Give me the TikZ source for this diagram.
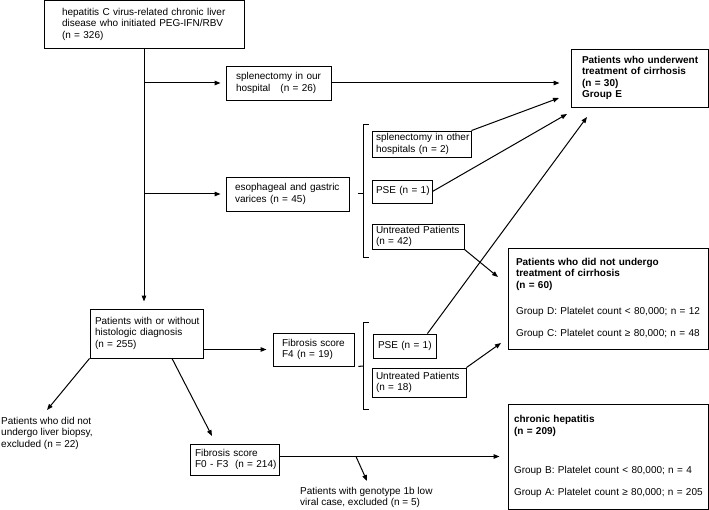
\documentclass[tikz,border=0pt]{standalone}
\usepackage{fontspec}
\setmainfont{Liberation Sans}
\usetikzlibrary{arrows.meta}
\newcommand\bt[2]{\noindent\hspace*{#1pt}\begin{tabular}[c]{@{}l@{}}#2\end{tabular}}
\begin{document}
\begin{tikzpicture}[x=1pt,y=-1pt,
  box/.style={draw, line width=0.9pt, inner sep=0pt, align=left,
    font=\fontsize{10}{11.5}\selectfont},
  lbl/.style={inner sep=0pt, align=left, anchor=west,
    font=\fontsize{10}{11.5}\selectfont},
  conn/.style={line width=1pt},
  arr/.style={conn, -{Triangle[length=6pt,width=4.5pt]}}]
\useasboundingbox (0,0) rectangle (709,510);

% boxes
\node[box, text width=200pt, minimum height=47.5pt] (top) at (144,24.25)
  {\bt{18}{hepatitis C virus-related chronic liver\\disease who initiated PEG-IFN/RBV\\(n = 326)}};
\node[box, text width=105pt, minimum height=34pt] (splen) at (278.5,83)
  {\bt{10}{splenectomy in our\\hospital \ \ (n = 26)}};
\node[box, text width=123pt, minimum height=34pt] (esoph) at (287.5,194)
  {\bt{9}{esophageal and gastric\\varices (n = 45)}};
\node[box, text width=137pt, minimum height=58pt] (groupE) at (639.5,78)
  {\bt{11}{\textbf{Patients who underwent}\\\textbf{treatment of cirrhosis}\\\textbf{(n = 30)}\\\textbf{Group E}}};
\node[box, text width=99pt, minimum height=26pt] (splen2) at (421.5,144)
  {\bt{4}{splenectomy in other\\hospitals (n = 2)}};
\node[box, text width=60pt, minimum height=23pt] (pse1) at (402,191.5)
  {\bt{4}{PSE (n = 1)}};
\node[box, text width=92pt, minimum height=25pt] (untr42) at (418,236.5)
  {\bt{4}{Untreated Patients\\(n = 42)}};
\node[box, text width=200pt, minimum height=101pt] (groupDC) at (608,298.5)
  {\bt{8}{\textbf{Patients who did not undergo}\\\textbf{treatment of cirrhosis}\\\textbf{(n = 60)}\\[14.5pt]Group D: Platelet count < 80,000; n = 12\\[10.5pt]Group C: Platelet count ≥ 80,000; n = 48}};
\node[box, text width=113pt, minimum height=49pt] (hist) at (146.5,333.5)
  {\bt{5}{Patients with or without\\histologic diagnosis\\(n = 255)}};
\node[box, text width=81pt, minimum height=33pt] (F4) at (313.5,349.5)
  {\bt{9}{Fibrosis score\\F4 (n = 19)}};
\node[box, text width=63pt, minimum height=24pt] (pse2) at (404.5,346)
  {\bt{5}{PSE (n = 1)}};
\node[box, text width=94pt, minimum height=29pt] (untr18) at (419,382.5)
  {\bt{4}{Untreated Patients\\(n = 18)}};
\node[box, text width=200pt, minimum height=105pt] (chronic) at (608,456.5)
  {\bt{6}{\textbf{chronic hepatitis}\\\textbf{(n = 209)}\\[27.5pt]Group B: Platelet count < 80,000; n = 4\\[10.5pt]Group A: Platelet count ≥ 80,000; n = 205}};
\node[box, text width=89pt, minimum height=31pt] (F03) at (234.5,459.5)
  {\bt{5}{Fibrosis score\\F0 - F3 \ (n = 214)}};

% free texts
\node[lbl] (excl22) at (1,433)
  {Patients who did not\\undergo liver biopsy,\\excluded (n = 22)};
\node[lbl] (excl5) at (300,497.5)
  {Patients with genotype 1b low\\viral case, excluded (n = 5)};

% free ends
\coordinate (tE2) at (559,98);
\coordinate (tE3) at (567,114);
\coordinate (tE4) at (587,117);
\coordinate (tDC1) at (498,277);
\coordinate (tDC2) at (501,343);
\coordinate (tX22) at (47,410);
\coordinate (tF03) at (212,436);
\coordinate (br) at (356,456.5);
\coordinate (tX5) at (367,481);

% trunk and branches
\draw[arr] (top.south) -- ([yshift=7pt]hist.north -| top.south);
\draw[arr] (top.south |- splen.west) -- ([xshift=-5pt]splen.west);
\draw[arr] (top.south |- esoph.west) -- ([xshift=-5pt]esoph.west);
\draw[arr] (splen.east) -- ([xshift=-11pt]groupE.west |- splen.east);

% bracket 1
\draw[conn] ([xshift=9pt]esoph.east) -- (363,194);
\draw[conn] (369,125) -- (363,125) -- (363,258) -- (369,258);

% arrows to groups
\draw[arr] (splen2.north east) -- (tE2);
\draw[arr] (pse1.east) -- (tE3);
\draw[arr] ([xshift=-9pt]pse2.north east) -- (tE4);
\draw[arr] (untr42.south east) -- (tDC1);
\draw[arr] (untr18.north east) -- (tDC2);

% histology
\draw[arr] (hist.east |- F4.west) -- ([xshift=-6pt]F4.west);
\draw[conn] ([xshift=4pt]F4.south east) -- (363,366);
\draw[conn] (369,323) -- (363,323) -- (363,409) -- (369,409);
\draw[arr] (hist.south west) -- (tX22);
\draw[arr] ([xshift=25.5pt]hist.south) -- (tF03);
\draw[arr] (F03.east |- chronic.west) -- ([xshift=-8pt]chronic.west);
\draw[arr] (br) -- (tX5);
\end{tikzpicture}
\end{document}
